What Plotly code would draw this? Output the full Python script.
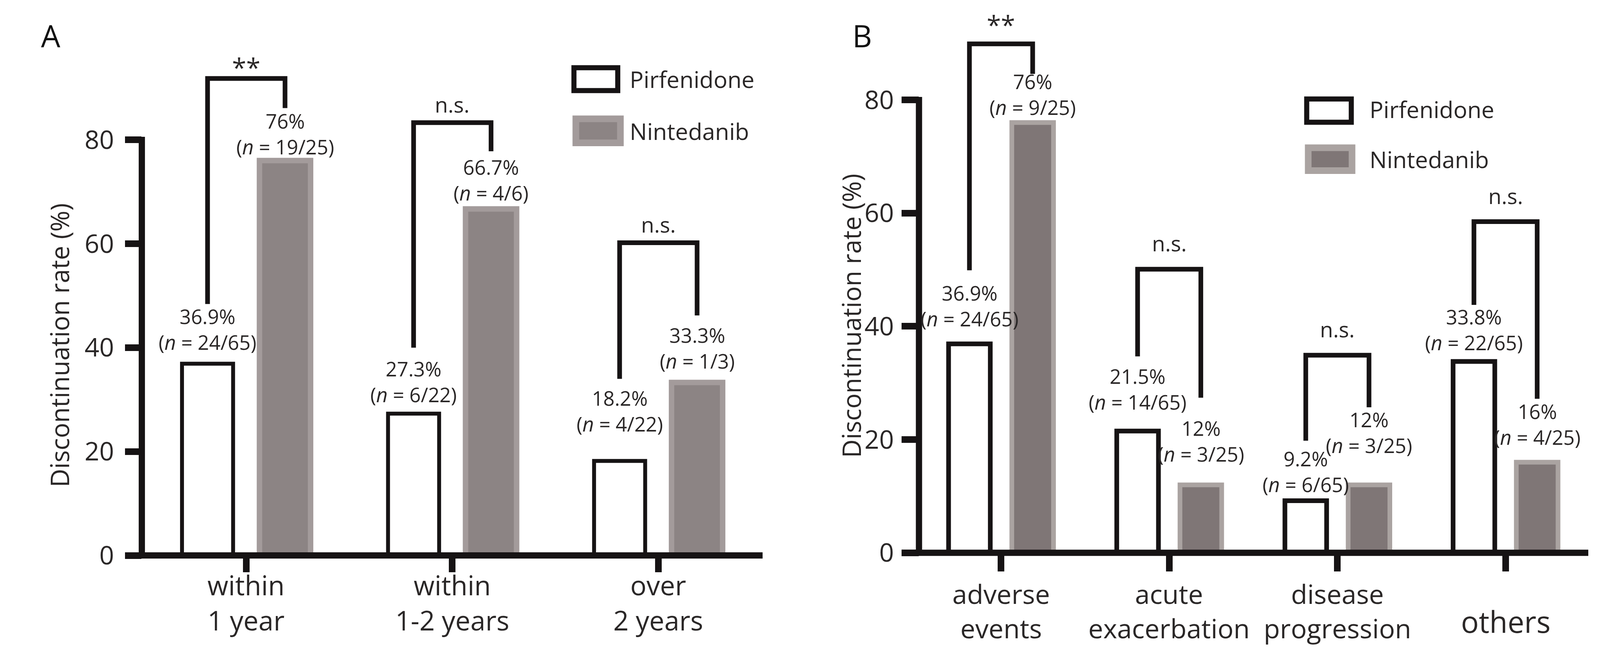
import plotly.graph_objects as go

# ---------------- data ----------------
cats_a = ["within<br>1 year", "within<br>1-2 years", "over<br>2 years"]
pirf_a = [36.9, 27.3, 18.2]
nint_a = [76.0, 66.7, 33.3]
pirf_a_n = ["24/65", "6/22", "4/22"]
nint_a_n = ["19/25", "4/6", "1/3"]
sig_a = ["**", "n.s.", "n.s."]
brk_top_a = [91.8, 83.3, 60.2]
brk_left_a = [48.4, 40.0, 34.0]
brk_right_a = [86.1, 77.8, 46.2]

cats_b = ["adverse<br>events", "acute<br>exacerbation", "disease<br>progression", "others"]
pirf_b = [36.9, 21.5, 9.2, 33.8]
nint_b = [76.0, 12.0, 12.0, 16.0]
pirf_b_n = ["24/65", "14/65", "6/65", "22/65"]
nint_b_n = ["9/25", "3/25", "3/25", "4/25"]
sig_b = ["**", "n.s.", "n.s.", "n.s."]
brk_top_b = [89.9, 50.1, 34.9, 58.5]
brk_left_b = [49.9, 34.7, 19.8, 43.8]
brk_right_b = [84.6, 27.4, 25.7, 27.2]

y_ticks = [0, 20, 40, 60, 80]
series_names = ["Pirfenidone", "Nintedanib"]
y_title = "Discontinuation rate (%)"
panel_letters = ["A", "B"]

# ---------------- layout-only tweaks (label lift above bar, px) ----------------
lift_a_pirf = [19, 12, 58]
lift_a_nint = [-1, 4, 18]
lift_b_pirf = [28, 38, 5, 12]
lift_b_nint = [3, 42, 64, 28]

# ---------------- geometry helpers ----------------
# The page is shown in a 4096 px wide viewport (body margin 8 px) and the
# photo is stretched to 4236 px, so reference pixels are mapped accordingly.
REF_W = 4236
S = 4096 / REF_W
MARG = 8
FW, FH = 4096 - 2 * MARG, 1709 - 2 * MARG

def fx(rx):
    return (rx * S - MARG) / FW

def fy(ry):
    return 1 - (ry - MARG) / FH

FONT = "Open Sans, Noto Sans, DejaVu Sans, sans-serif"
TXT = "#2a2727"
BLACK = "#161314"
Y_MAX = 97
OFF = 0.188
BW = 0.248
AXW = 16
LINE_SP = 1.3

panels = [
    dict(cats=cats_a, pirf=pirf_a, nint=nint_a, pn=pirf_a_n, nn=nint_a_n, sig=sig_a,
         top=brk_top_a, left=brk_left_a, right=brk_right_a,
         lp=lift_a_pirf, ln=lift_a_nint,
         x_px=(375.5, 2019), y0_px=1457, ppu=13.63, xr=[-0.507, 2.506],
         nfill="#8c8484", nline="#a39b9b", pw=10, nw=14,
         yticklen=42, xticklen=42, ylab_stand=15, sigoff=41,
         cat_mid=147, cat_single=185, cat_size=69,
         ytitle=(157, 905), letter=(134, 93),
         leg=dict(p=(1513, 171, 1642, 244, 13), n=(1516, 303, 1651, 383, 17),
                  tx=1665, ty=(207, 343))),
    dict(cats=cats_b, pirf=pirf_b, nint=nint_b, pn=pirf_b_n, nn=nint_b_n, sig=sig_b,
         top=brk_top_b, left=brk_left_b, right=brk_right_b,
         lp=lift_b_pirf, ln=lift_b_nint,
         x_px=(2433, 4205), y0_px=1450, ppu=14.85, xr=[-0.488, 3.492],
         nfill="#7f7676", nline="#aaa3a1", pw=12, nw=12,
         yticklen=44, xticklen=47, ylab_stand=6, sigoff=61,
         cat_mid=175, cat_single=205, cat_size=68,
         ytitle=(2253, 828), letter=(2282, 93),
         leg=dict(p=(3453, 253, 3584, 327, 13), n=(3455, 379, 3588, 456, 17),
                  tx=3624, ty=(286, 417))),
]

fig = go.Figure()
shapes = []
annotations = []
layout_axes = {}

for k, P in enumerate(panels):
    sfx = "" if k == 0 else str(k + 1)
    xa, ya = "x" + sfx, "y" + sfx
    n = len(P["cats"])
    xs = list(range(n))
    xdom = [fx(P["x_px"][0]), fx(P["x_px"][1])]
    ydom = [fy(P["y0_px"]), fy(P["y0_px"] - Y_MAX * P["ppu"])]

    fig.add_trace(go.Bar(
        x=xs, y=P["pirf"], name=series_names[0], xaxis=xa, yaxis=ya,
        width=BW, offset=-OFF - BW / 2,
        marker=dict(color="white", line=dict(color=BLACK, width=P["pw"])),
        showlegend=False, hoverinfo="skip"))
    fig.add_trace(go.Bar(
        x=xs, y=P["nint"], name=series_names[1], xaxis=xa, yaxis=ya,
        width=BW, offset=OFF - BW / 2,
        marker=dict(color=P["nfill"], line=dict(color=P["nline"], width=P["nw"])),
        showlegend=False, hoverinfo="skip"))

    layout_axes["xaxis" + sfx] = dict(
        domain=xdom, range=P["xr"], anchor=ya, tickmode="array",
        tickvals=xs, ticktext=P["cats"], showticklabels=False,
        ticks="outside", ticklen=P["xticklen"],
        tickwidth=AXW + 1, tickcolor=BLACK, showline=False, showgrid=False,
        zeroline=False, fixedrange=True)
    layout_axes["yaxis" + sfx] = dict(
        domain=ydom, range=[0, Y_MAX], anchor=xa, tickmode="array",
        tickvals=y_ticks, ticks="outside", ticklen=P["yticklen"], tickwidth=AXW + 1,
        tickcolor=BLACK, showline=False, showgrid=False, zeroline=False,
        ticklabelstandoff=P["ylab_stand"], tickfont=dict(family=FONT, size=66, color=TXT),
        fixedrange=True)

    # axis lines (x line starts at the left end of the y ticks; y line stops at top tick)
    xdw = xdom[1] - xdom[0]
    x_start = -(P["yticklen"] / FW) / xdw
    shapes.append(dict(type="line", xref=xa + " domain", yref=ya + " domain",
                       x0=x_start, x1=1, y0=0, y1=0,
                       line=dict(color=BLACK, width=AXW), layer="above"))
    top_frac = (max(y_ticks) + (AXW / 2) / P["ppu"]) / Y_MAX
    shapes.append(dict(type="line", xref=xa + " domain", yref=ya + " domain",
                       x0=0, x1=0, y0=-(AXW / 2) / (Y_MAX * P["ppu"]), y1=top_frac,
                       line=dict(color=BLACK, width=AXW), layer="above"))

    # category labels under the ticks
    for i, cat in enumerate(P["cats"]):
        nl = len(cat.split("<br>"))
        size = P["cat_size"] + (8 if nl == 1 else 0)
        if nl == 1:
            last_base = P["cat_single"]
        else:
            last_base = P["cat_mid"] + (nl - 1) * LINE_SP * size / 2
        annotations.append(dict(
            x=i, y=0, xref=xa, yref=ya + " domain", text=cat, showarrow=False,
            xanchor="center", yanchor="bottom",
            yshift=-(last_base + 0.293 * size + 2),
            font=dict(family=FONT, size=size, color=TXT)))

    for i in range(n):
        xl, xr_ = i - OFF, i + OFF
        # significance bracket
        shapes.append(dict(type="path", xref=xa, yref=ya,
                           path=f"M {xl},{P['left'][i]} L {xl},{P['top'][i]} L {xr_},{P['top'][i]} L {xr_},{P['right'][i]}",
                           line=dict(color=BLACK, width=12)))
        star = P["sig"][i] == "**"
        annotations.append(dict(x=i, y=P["top"][i], xref=xa, yref=ya, text=P["sig"][i],
                                showarrow=False, yanchor="middle",
                                yshift=P["sigoff"] + (-11 if star else 6),
                                font=dict(family=FONT, size=66 if star else 55, color=TXT)))
        # value labels
        for xv, v, nn, lift in ((xl, P["pirf"][i], P["pn"][i], P["lp"][i]),
                                (xr_, P["nint"][i], P["nn"][i], P["ln"][i])):
            annotations.append(dict(
                x=xv, y=v, xref=xa, yref=ya, showarrow=False, yanchor="bottom", yshift=lift,
                text=f"{v:g}%<br>(<i>n</i> = {nn})",
                font=dict(family=FONT, size=51, color=TXT)))

    # y-axis title
    annotations.append(dict(x=fx(P["ytitle"][0]), y=fy(P["ytitle"][1]), xref="paper",
                            yref="paper", text=y_title, textangle=-90, showarrow=False,
                            xanchor="center", yanchor="middle",
                            font=dict(family=FONT, size=65, color=TXT)))
    # panel letter
    annotations.append(dict(x=fx(P["letter"][0]), y=fy(P["letter"][1]), xref="paper",
                            yref="paper", text=panel_letters[k], showarrow=False,
                            xanchor="center", yanchor="middle",
                            font=dict(family=FONT, size=78, color="#111")))
    # legend (drawn by hand)
    L = P["leg"]
    for (x0, y0, x1, y1, lw), fill, lc in ((L["p"], "white", BLACK), (L["n"], P["nfill"], P["nline"])):
        shapes.append(dict(type="rect", xref="paper", yref="paper",
                           x0=fx(x0 + lw / 2), x1=fx(x1 - lw / 2),
                           y0=fy(y1 - lw / 2), y1=fy(y0 + lw / 2),
                           fillcolor=fill, line=dict(color=lc, width=lw)))
    for j, name in enumerate(series_names):
        annotations.append(dict(x=fx(L["tx"]), y=fy(L["ty"][j]), xref="paper",
                                yref="paper", text=name, showarrow=False,
                                xanchor="left", yanchor="middle",
                                font=dict(family=FONT, size=59, color=TXT)))

fig.update_layout(
    width=FW, height=FH, autosize=False,
    margin=dict(l=0, r=0, t=0, b=0),
    paper_bgcolor="white", plot_bgcolor="white",
    barmode="group", shapes=shapes, annotations=annotations,
    font=dict(family=FONT, color=TXT),
    **layout_axes)

fig.write_html("out.html")
